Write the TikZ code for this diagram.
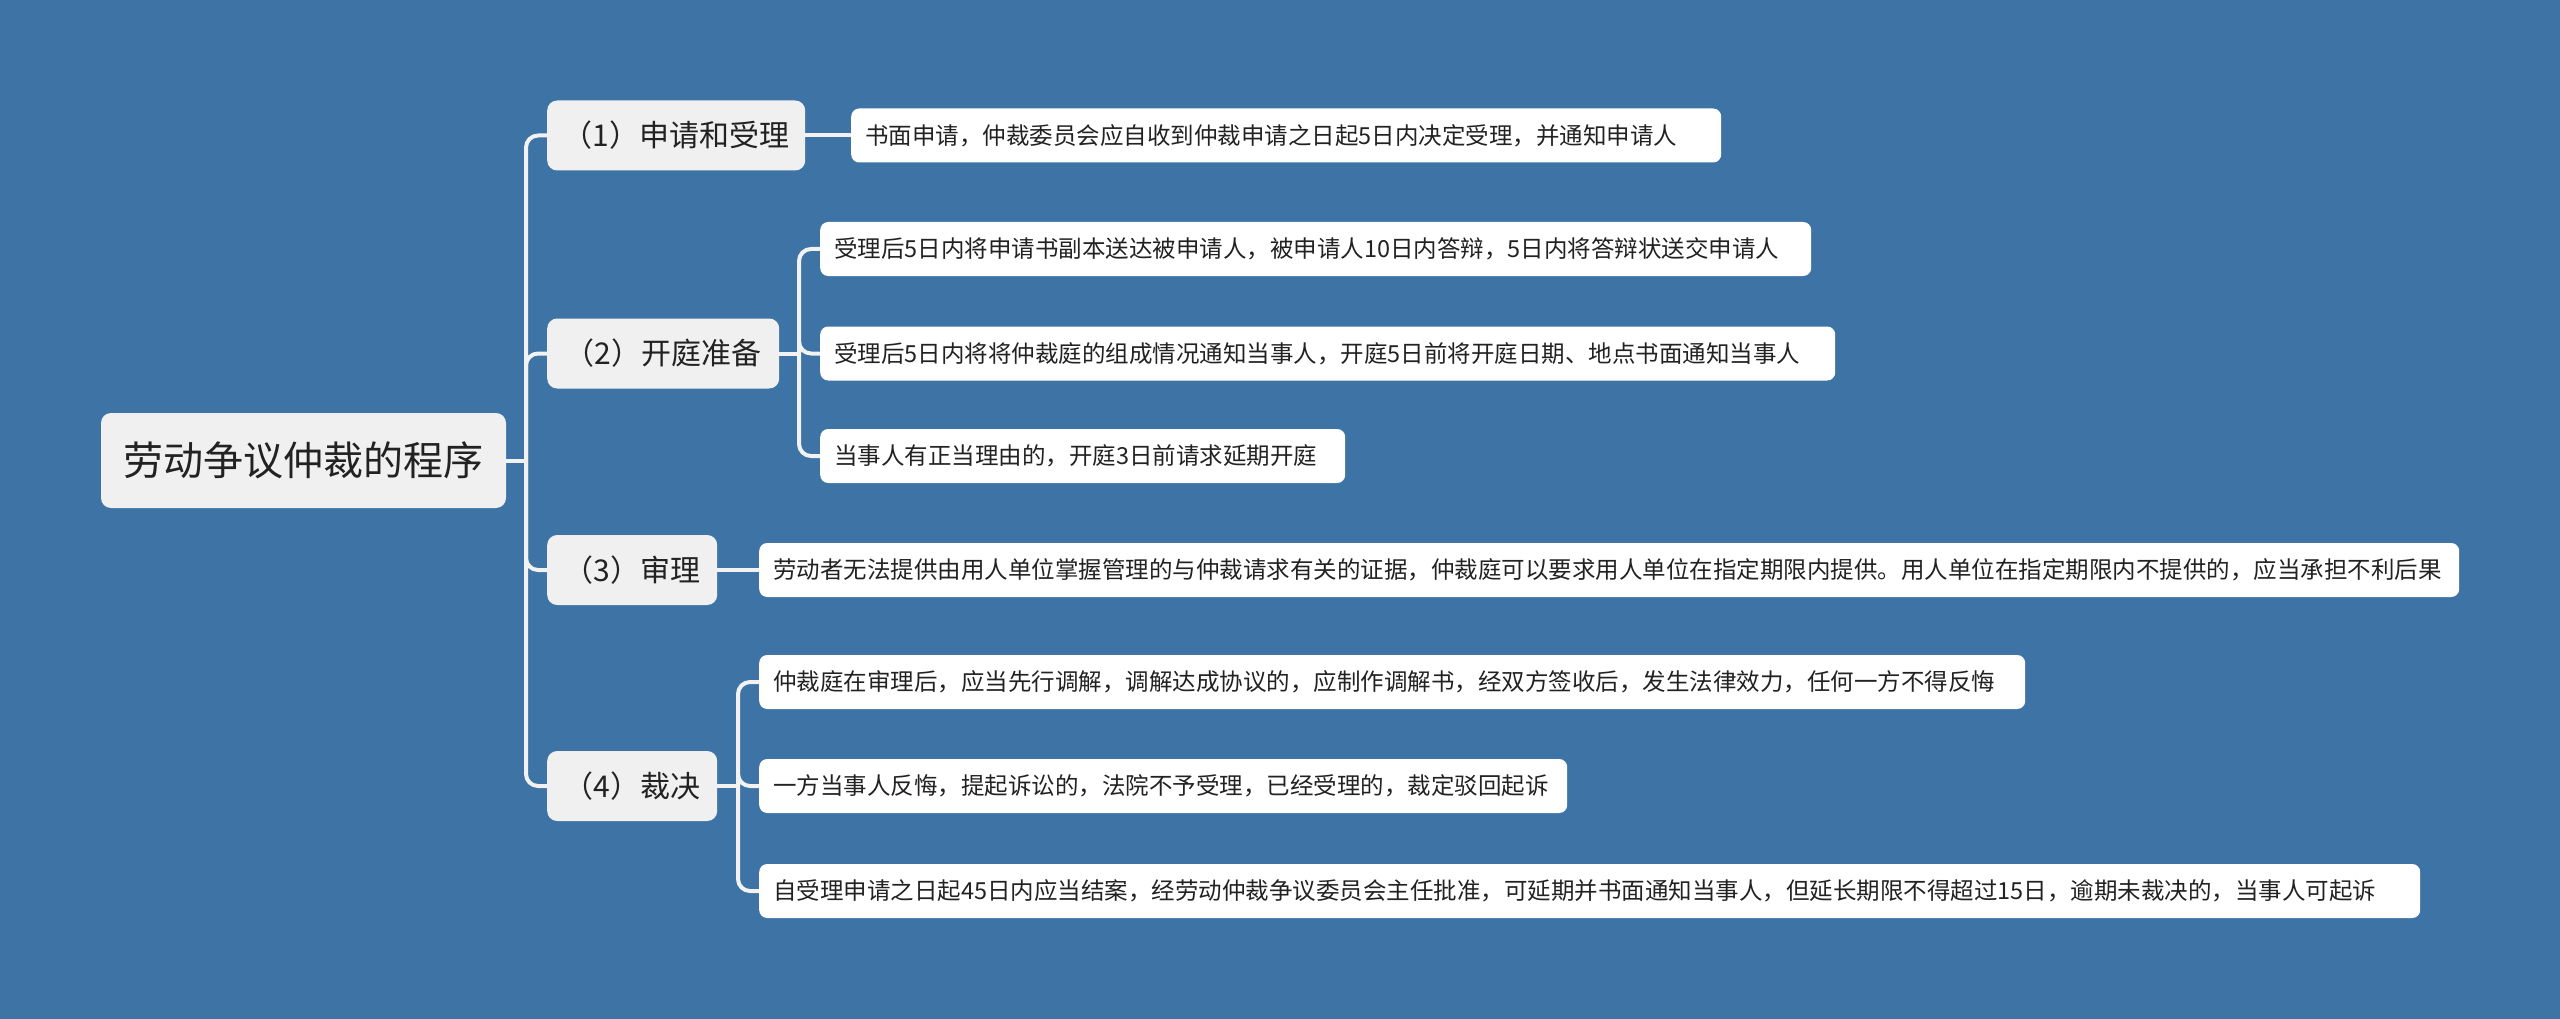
\documentclass[tikz,border=0pt]{standalone}
\usepackage{fontspec}
\newfontfamily\cjk{Noto Sans CJK SC}
\definecolor{bg}{RGB}{61,115,165}
\definecolor{linec}{RGB}{242,242,242}
\definecolor{l1fill}{RGB}{240,240,240}
\definecolor{txt}{RGB}{34,34,34}
\begin{document}
\begin{tikzpicture}[x=1pt,y=-1pt,
  lk/.style={draw=linec, line width=4pt, rounded corners=12pt},
  rootbox/.style={fill=l1fill, rounded corners=10pt, minimum height=95pt, text=txt, font=\cjk\fontsize{40}{48}\selectfont, inner xsep=0pt},
  subbox/.style={fill=l1fill, rounded corners=10pt, minimum height=70pt, text=txt, font=\cjk\fontsize{30}{36}\selectfont, inner xsep=0pt, anchor=west},
  leafbox/.style={fill=white, rounded corners=8pt, minimum height=54pt, text=txt, font=\cjk\fontsize{23.5}{28}\selectfont, inner xsep=14pt, align=left, anchor=west},
]
\fill[bg] (0,0) rectangle (2560,1019);
\useasboundingbox (0,0) rectangle (2560,1019);

\node[rootbox, minimum width=405pt] (root) at (303.5,460.5) {劳动争议仲裁的程序};

\node[subbox, minimum width=258pt] (s1) at (547,135.5) {（1）申请和受理};
\node[subbox, minimum width=232pt] (s2) at (547,353.5) {（2）开庭准备};
\node[subbox, minimum width=170pt] (s3) at (547,570) {（3）审理};
\node[subbox, minimum width=170pt] (s4) at (547,786) {（4）裁决};

\node[leafbox, text width=842pt] (a) at (851,135.5) {书面申请，仲裁委员会应自收到仲裁申请之日起5日内决定受理，并通知申请人};
\node[leafbox, text width=963pt] (b) at (820,249) {受理后5日内将申请书副本送达被申请人，被申请人10日内答辩，5日内将答辩状送交申请人};
\node[leafbox, text width=987pt] (c) at (820,353.5) {受理后5日内将将仲裁庭的组成情况通知当事人，开庭5日前将开庭日期、地点书面通知当事人};
\node[leafbox, text width=497pt] (d) at (820,456) {当事人有正当理由的，开庭3日前请求延期开庭};
\node[leafbox, text width=1672pt] (e) at (759,570) {劳动者无法提供由用人单位掌握管理的与仲裁请求有关的证据，仲裁庭可以要求用人单位在指定期限内提供。用人单位在指定期限内不提供的，应当承担不利后果};
\node[leafbox, text width=1238pt] (f) at (759,682) {仲裁庭在审理后，应当先行调解，调解达成协议的，应制作调解书，经双方签收后，发生法律效力，任何一方不得反悔};
\node[leafbox, text width=780pt] (g) at (759,786) {一方当事人反悔，提起诉讼的，法院不予受理，已经受理的，裁定驳回起诉};
\node[leafbox, text width=1633pt] (h) at (759,891) {自受理申请之日起45日内应当结案，经劳动仲裁争议委员会主任批准，可延期并书面通知当事人，但延长期限不得超过15日，逾期未裁决的，当事人可起诉};

\coordinate (j0) at (526,460.5);
\coordinate (j2) at (799,353.5);
\coordinate (j4) at (738,786);

\draw[lk] (root.east) -- (j0);
\foreach \n in {s1,s2,s3,s4} \draw[lk] (j0) |- (\n.west);

\draw[lk] (s1.east) -- (a.west);
\draw[lk] (s2.east) -- (j2);
\foreach \n in {b,c,d} \draw[lk] (j2) |- (\n.west);
\draw[lk] (s3.east) -- (e.west);
\draw[lk] (s4.east) -- (j4);
\foreach \n in {f,g,h} \draw[lk] (j4) |- (\n.west);
\end{tikzpicture}
\end{document}
